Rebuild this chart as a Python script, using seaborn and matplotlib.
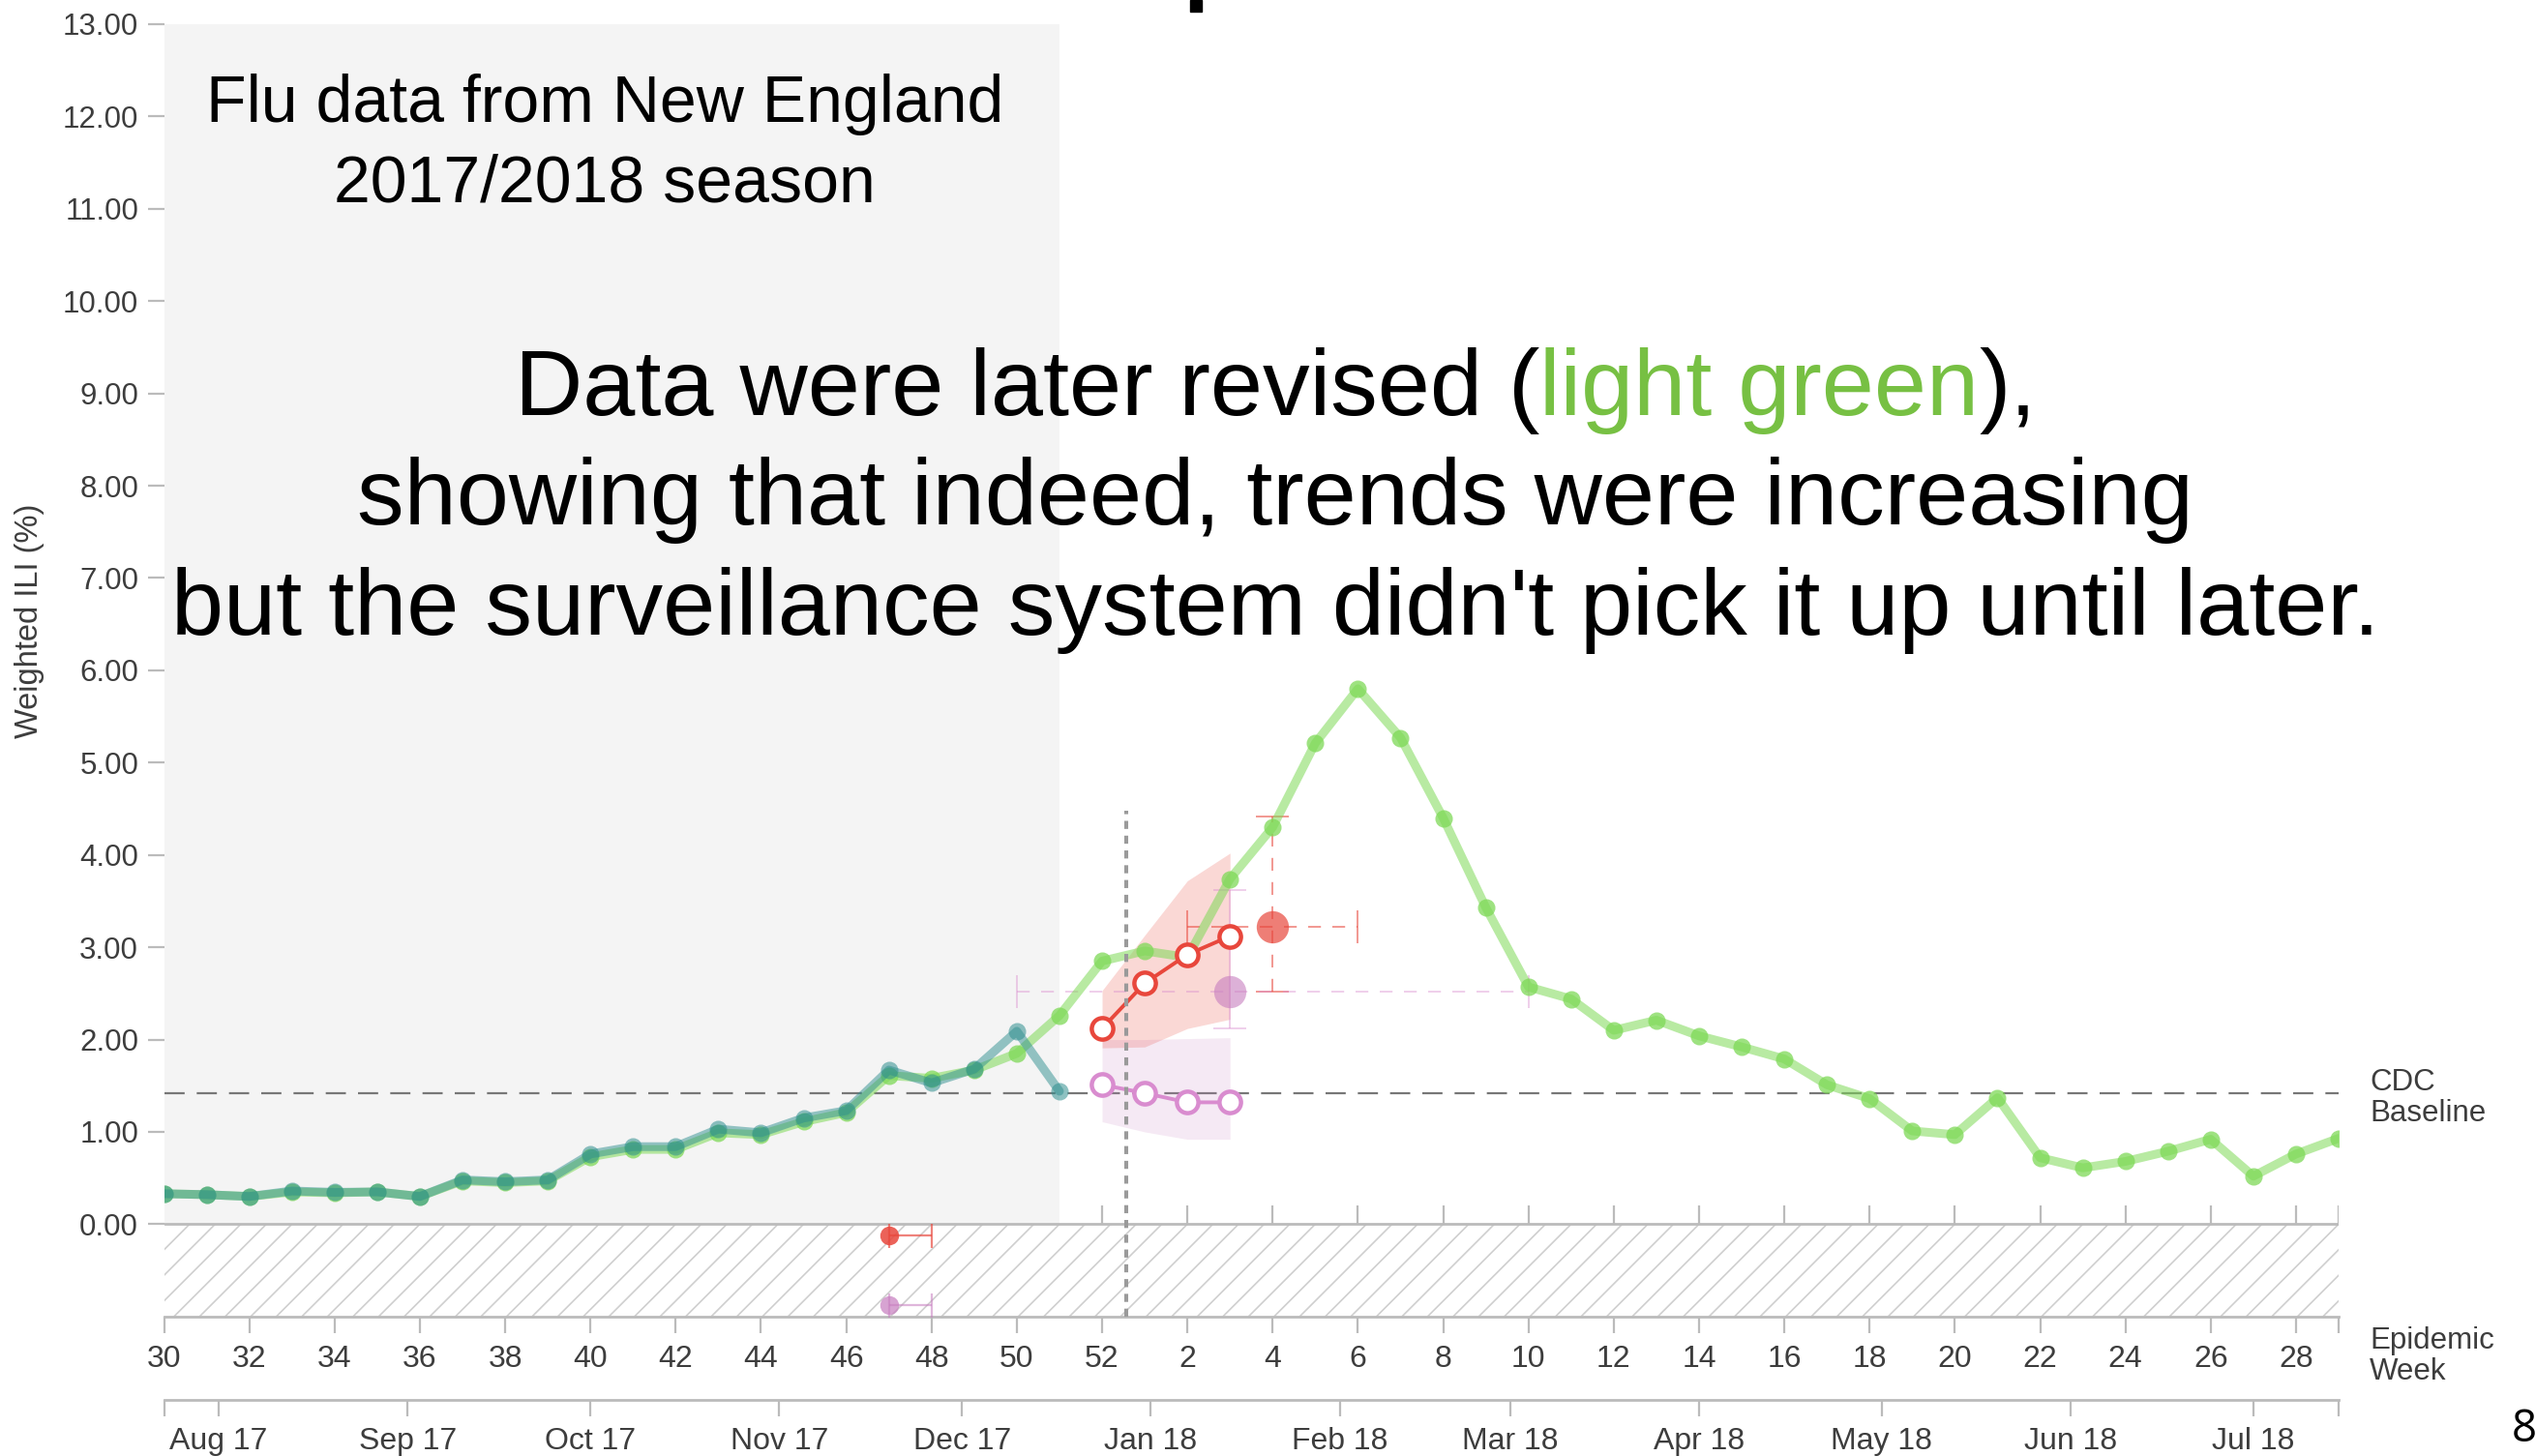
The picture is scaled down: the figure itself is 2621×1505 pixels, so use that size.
import numpy as np
import pandas as pd
import matplotlib
matplotlib.use("Agg")
from matplotlib import pyplot as plt
from matplotlib.patches import Rectangle
from matplotlib.collections import LineCollection
import seaborn as sns

# epidemic weeks of the 2017/2018 season (week 30 starts on 2017-07-23)
weeks = list(range(30, 53)) + list(range(1, 30))
season_start = pd.Timestamp("2017-07-23")

# revised weighted ILI (light green)
revised_ili = [0.33, 0.32, 0.30, 0.35, 0.34, 0.35, 0.30, 0.47, 0.45, 0.47,
               0.73, 0.81, 0.81, 0.99, 0.97, 1.11, 1.21, 1.61, 1.58, 1.67,
               1.85, 2.26, 2.85, 2.96, 2.89, 3.74, 4.30, 5.21, 5.80, 5.27,
               4.40, 3.43, 2.57, 2.44, 2.10, 2.21, 2.04, 1.92, 1.79, 1.51,
               1.36, 1.01, 0.97, 1.37, 0.72, 0.61, 0.68, 0.79, 0.92, 0.52,
               0.76, 0.93]
# ILI as first reported, weeks 30-51 (teal)
initial_ili = [0.33, 0.32, 0.30, 0.36, 0.345, 0.35, 0.30, 0.48, 0.46, 0.48,
               0.76, 0.84, 0.84, 1.03, 0.99, 1.15, 1.23, 1.67, 1.53, 1.68,
               2.09, 1.44]

# short term forecasts
forecast_weeks = [52, 1, 2, 3]
red_forecast = [2.12, 2.61, 2.92, 3.12]
red_lower = [1.91, 1.92, 2.12, 2.22]
red_upper = [2.53, 3.13, 3.72, 4.02]
pink_forecast = [1.51, 1.42, 1.32, 1.32]
pink_lower = [1.11, 1.00, 0.92, 0.92]
pink_upper = [2.00, 2.00, 2.01, 2.02]

# peak predictions
red_peak_week, red_peak_value = 4, 3.22
red_peak_weeks = (2, 6)
red_peak_range = (2.52, 4.42)
pink_peak_week, pink_peak_value = 3, 2.52
pink_peak_weeks = (50, 10)
pink_peak_range = (2.12, 3.62)

# onset predictions (drawn in the hatched band)
onset_week, onset_week_hi = 47, 48
red_onset_row = -0.12
pink_onset_row = -0.88

cdc_baseline = 1.42
current_pos = 22.56
current_top = 4.48
shaded_until = 51

month_starts = pd.date_range("2017-08-01", "2018-07-01", freq="MS")
month_labels = [d.strftime("%b %y") for d in month_starts]
y_ticks = list(range(0, 14))

GREEN = "#7ed957"
TEAL = "#2f8f8f"
RED = "#e8473c"
PINK = "#d98ccf"
GRID = "#bbbbbb"
TXT = "#3d3d3d"

sns.set_style("white")
plt.rcParams["font.family"] = ["Liberation Sans", "DejaVu Sans"]
plt.rcParams["lines.scale_dashes"] = False

pos = {w: i for i, w in enumerate(weeks)}
x_all = np.arange(len(weeks))
last = len(weeks) - 1

fig = plt.figure(figsize=(26.21, 15.05), dpi=100)
ax = fig.add_axes([0.06467, 0.09581, 0.8575, 0.88764])
ax.set_xlim(0, last)
ax.set_ylim(-1, 13)

# small ticks on the zero line, hidden under the shaded part
even_pos = [pos[w] for w in weeks if w % 2 == 0]
ax.vlines(even_pos + [last], 0, 0.2, color=GRID, lw=1.6, zorder=0.3)

# shaded "past" area
ax.add_patch(Rectangle((0, 0), pos[shaded_until], 13, facecolor="#f4f4f4",
                       edgecolor="none", zorder=0.5))

# hatched band below zero
band = Rectangle((0, -1), last, 1, facecolor="white", edgecolor="none", zorder=0.5)
ax.add_patch(band)
px_x = 44.07
px_y = 95.42
slope = px_y / px_x
segs = [[(x0, -1), (x0 + slope, 0)] for x0 in np.arange(-slope, last + 0.6, 0.6)]
hatch = LineCollection(segs, colors="#cfcfcf", linewidths=1.2, zorder=0.6)
ax.add_collection(hatch)
hatch.set_clip_path(band)
ax.axhline(0, color=GRID, lw=2, zorder=0.7)

# CDC baseline
ax.hlines(cdc_baseline, 0, last, color="#777777", lw=1.6,
          linestyle=(0, (15, 9)), zorder=1)

# current week marker
ax.vlines(current_pos, -1, current_top, color="#9a9a9a", lw=2.9,
          linestyle=(0, (6, 5)), zorder=6)

# revised data
sns.lineplot(x=x_all, y=revised_ili, color=GREEN, linewidth=6.5, alpha=0.55, ax=ax, zorder=3)
sns.scatterplot(x=x_all, y=revised_ili, color=GREEN, s=13 ** 2, alpha=0.75,
                linewidth=0, ax=ax, zorder=3)

# initial data
x_init = x_all[:len(initial_ili)]
sns.lineplot(x=x_init, y=initial_ili, color=TEAL, linewidth=6.5, alpha=0.5, ax=ax, zorder=4)
sns.scatterplot(x=x_init, y=initial_ili, color=TEAL, s=13 ** 2, alpha=0.55,
                linewidth=0, ax=ax, zorder=4)

# forecast bands
fx = [pos[w] for w in forecast_weeks]
ax.fill_between(fx, pink_lower, pink_upper, color="#c77dbf", alpha=0.17, lw=0, zorder=2)
ax.fill_between(fx, red_lower, red_upper, color=RED, alpha=0.21, lw=0, zorder=2)

# peak predictions
eb = ax.errorbar(pos[red_peak_week], red_peak_value,
                 xerr=[[pos[red_peak_week] - pos[red_peak_weeks[0]]],
                       [pos[red_peak_weeks[1]] - pos[red_peak_week]]],
                 yerr=[[red_peak_value - red_peak_range[0]],
                       [red_peak_range[1] - red_peak_value]],
                 fmt="none", ecolor=RED, alpha=0.6, elinewidth=1.3,
                 capsize=12, capthick=1.3, zorder=2.5)
for c in eb[2]:
    c.set_linestyle((0, (9.5, 8.5)))
eb = ax.errorbar(pos[pink_peak_week], pink_peak_value,
                 xerr=[[pos[pink_peak_week] - pos[pink_peak_weeks[0]]],
                       [pos[pink_peak_weeks[1]] - pos[pink_peak_week]]],
                 fmt="none", ecolor=PINK, alpha=0.45, elinewidth=1.3,
                 capsize=12, capthick=1.3, zorder=2.5)
for c in eb[2]:
    c.set_linestyle((0, (9.5, 8.5)))
ax.errorbar(pos[pink_peak_week], pink_peak_value,
            yerr=[[pink_peak_value - pink_peak_range[0]],
                  [pink_peak_range[1] - pink_peak_value]],
            fmt="none", ecolor=PINK, alpha=0.45, elinewidth=1.3,
            capsize=12, capthick=1.3, zorder=2.5)
sns.scatterplot(x=[pos[red_peak_week]], y=[red_peak_value], color=RED, s=24 ** 2,
                alpha=0.7, linewidth=0, ax=ax, zorder=5)
sns.scatterplot(x=[pos[pink_peak_week]], y=[pink_peak_value], color="#c77dbf",
                s=24 ** 2, alpha=0.6, linewidth=0, ax=ax, zorder=5)

# forecast lines with open markers
sns.lineplot(x=fx, y=pink_forecast, color=PINK, linewidth=2.8, ax=ax, zorder=5)
sns.scatterplot(x=fx, y=pink_forecast, color="white", edgecolor=PINK, linewidth=3.2,
                s=16 ** 2, ax=ax, zorder=5)
sns.lineplot(x=fx, y=red_forecast, color=RED, linewidth=2.8, ax=ax, zorder=5)
sns.scatterplot(x=fx, y=red_forecast, color="white", edgecolor=RED, linewidth=3.2,
                s=16 ** 2, ax=ax, zorder=5)

# onset predictions
for row, col, a in [(red_onset_row, RED, 0.85), (pink_onset_row, "#c77dbf", 0.7)]:
    ax.errorbar(pos[onset_week], row, xerr=[[0], [pos[onset_week_hi] - pos[onset_week]]],
                fmt="none", ecolor=col, alpha=a * 0.8, elinewidth=1.6,
                capsize=9, capthick=1.6, zorder=3)
    sns.scatterplot(x=[pos[onset_week]], y=[row], color=col, s=14 ** 2, alpha=a,
                    linewidth=0, ax=ax, zorder=4)

# axes styling
for s in ["top", "right", "left"]:
    ax.spines[s].set_visible(False)
ax.spines["bottom"].set_color(GRID)
ax.spines["bottom"].set_linewidth(2)
ax.set_xticks(even_pos, [str(w) for w in weeks if w % 2 == 0])
ax.set_xticks([last], minor=True)
ax.tick_params(axis="x", which="both", bottom=True, direction="out", length=12,
               width=1.6, color=GRID, labelsize=23, labelcolor=TXT, pad=9)
ax.set_yticks(y_ticks, [f"{v:.2f}" for v in y_ticks])
ax.tick_params(axis="y", left=True, direction="out", length=12, width=1.6,
               color=GRID, labelsize=22.5, labelcolor=TXT, pad=7)
ax.set_xlabel("")
ax.set_ylabel("")

month_pos = [(d - season_start).days / 7 for d in month_starts]
sec = ax.secondary_xaxis(-0.0645)
sec.set_xticks(month_pos, month_labels)
sec.set_xticks([0, last], minor=True)
sec.tick_params(which="both", bottom=True, direction="out", length=12, width=1.6,
                color=GRID, labelsize=23, labelcolor=TXT, pad=8)
sec.spines["bottom"].set_color(GRID)
sec.spines["bottom"].set_linewidth(2)

W, H = 2621, 1505
fig.text(30 / W, 1 - 642 / H, "Weighted ILI (%)", rotation=90, ha="center",
         va="center", fontsize=23.5, color=TXT)
fig.text(2449 / W, 1 - 1135 / H, "CDC\nBaseline", ha="left", va="center",
         fontsize=22.5, color=TXT, linespacing=1.08)
fig.text(2449 / W, 1 - 1402 / H, "Epidemic\nWeek", ha="left", va="center",
         fontsize=22.5, color=TXT, linespacing=1.08)

# slide annotations
fig.text(625 / W, 1 - 126 / H, "Flu data from New England", ha="center",
         va="baseline", fontsize=49, color="black")
fig.text(625 / W, 1 - 208.6 / H, "2017/2018 season", ha="center",
         va="baseline", fontsize=49, color="black")

fig.canvas.draw()
renderer = fig.canvas.get_renderer()
line1 = [("Data were later revised (", "black"), ("light green", "#77c043"), ("),", "black")]
widths = []
for s, c in line1:
    t = fig.text(0, 0, s, fontsize=70)
    widths.append(t.get_window_extent(renderer).width)
    t.remove()
x0 = 1318 - sum(widths) / 2
for (s, c), w in zip(line1, widths):
    fig.text(x0 / W, 1 - 428.6 / H, s, ha="left", va="baseline", fontsize=70, color=c)
    x0 += w
fig.text(1318 / W, 1 - 542.4 / H, "showing that indeed, trends were increasing",
         ha="center", va="baseline", fontsize=70, color="black")
fig.text(1318 / W, 1 - 656.3 / H,
         "but the surveillance system didn't pick it up until later.",
         ha="center", va="baseline", fontsize=70, color="black")

# cropped slide remnants
fig.patches.append(Rectangle((1230 / W, 1 - 12 / H), 12 / W, 12 / H,
                             transform=fig.transFigure, color="black"))
fig.text(2596 / W, 1 - 1490 / H, "8", fontsize=33, family="Open Sans",
         va="baseline", color="black")

fig.savefig("out.png", dpi=100)
